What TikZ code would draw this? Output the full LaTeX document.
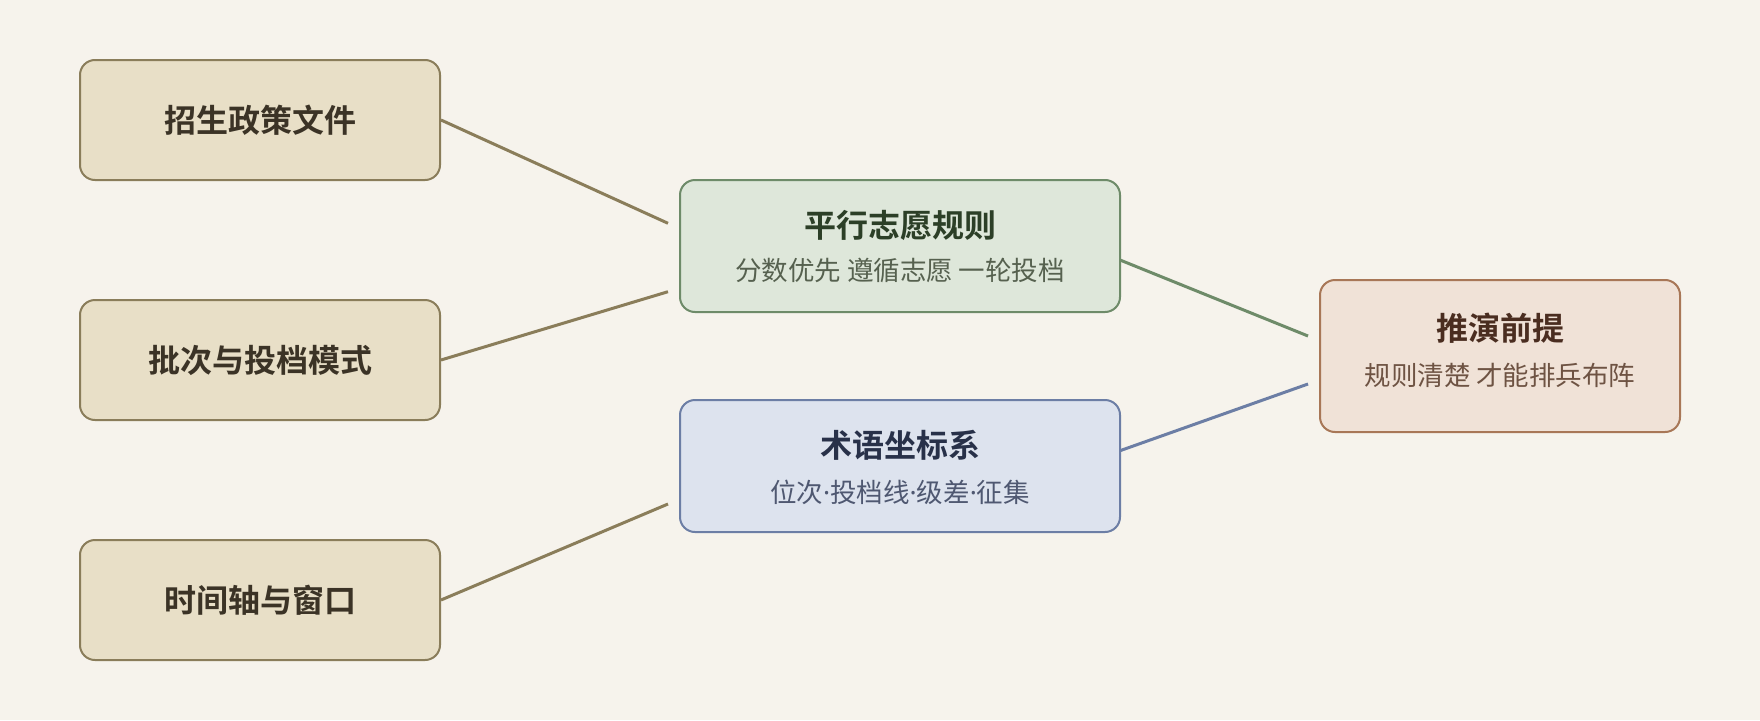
\documentclass[tikz,border=0pt]{standalone}
\usepackage{fontspec}
\setmainfont{Noto Sans CJK SC}
\newfontfamily\cjkb{Noto Sans CJK SC Bold}
\newfontfamily\latdot{Noto Sans}
\newcommand{\mdot}{{\latdot ·}}
\definecolor{bgc}{HTML}{F6F3EC}
\definecolor{tanfill}{HTML}{E8DFC7}
\definecolor{tanline}{HTML}{8A7D5A}
\definecolor{tantext}{HTML}{3B3326}
\definecolor{grfill}{HTML}{DEE7DA}
\definecolor{grline}{HTML}{6E8B69}
\definecolor{grtitle}{HTML}{2C3F27}
\definecolor{grsub}{HTML}{56614F}
\definecolor{blfill}{HTML}{DDE3EE}
\definecolor{blline}{HTML}{6C7EA5}
\definecolor{bltitle}{HTML}{283149}
\definecolor{blsub}{HTML}{4F5871}
\definecolor{rdfill}{HTML}{F0E2D7}
\definecolor{rdline}{HTML}{A87757}
\definecolor{rdtitle}{HTML}{4A2D20}
\definecolor{rdsub}{HTML}{6E5343}
\begin{document}
\begin{tikzpicture}[x=1pt,y=-1pt,
  box/.style={rounded corners=15pt, line width=2pt, minimum width=360pt, inner sep=0pt},
  srcbox/.style={box, draw=tanline, fill=tanfill, minimum height=120pt},
  midbox/.style={box, minimum width=440pt, minimum height=132pt},
  ttl/.style={font=\cjkb\fontsize{32}{36}\selectfont, inner sep=0pt},
  sub/.style={font=\fontsize{26.5}{30}\selectfont, inner sep=0pt},
  conn/.style={line width=3pt}]
\fill[bgc] (0,0) rectangle (1760,720);
\useasboundingbox (0,0) rectangle (1760,720);

\node[srcbox] (b1) at (260,120) {};
\node[srcbox] (b2) at (260,360) {};
\node[srcbox] (b3) at (260,600) {};
\node[ttl, text=tantext] (t1) at (b1.center) {招生政策文件};
\node[ttl, text=tantext] (t2) at (b2.center) {批次与投档模式};
\node[ttl, text=tantext] (t3) at (b3.center) {时间轴与窗口};

\node[midbox, draw=grline, fill=grfill] (g) at (900,246) {};
\node[ttl, text=grtitle] (gt) at (900,225) {平行志愿规则};
\node[sub, text=grsub] (gs) at (900,270) {分数优先 遵循志愿 一轮投档};

\node[midbox, draw=blline, fill=blfill] (bl) at (900,466) {};
\node[ttl, text=bltitle] (blt) at (900,445) {术语坐标系};
\node[sub, text=blsub] (bls) at (900,492) {位次\mdot 投档线\mdot 级差\mdot 征集};

\node[box, draw=rdline, fill=rdfill, minimum height=152pt] (r) at (1500,356) {};
\node[ttl, text=rdtitle] (rt) at (1500,328) {推演前提};
\node[sub, text=rdsub] (rs) at (1500,375) {规则清楚 才能排兵布阵};

\coordinate (g1) at (668,223.3);
\coordinate (g2) at (668,291.7);
\coordinate (bl1) at (668,504);
\coordinate (r1) at (1308,336);
\coordinate (r2) at (1308,384);
\coordinate (gout) at (1120,260);
\coordinate (blout) at (1120,450.7);

\draw[conn, tanline] (b1.east) -- (g1);
\draw[conn, tanline] (b2.east) -- (g2);
\draw[conn, tanline] (b3.east) -- (bl1);
\draw[conn, grline] (gout) -- (r1);
\draw[conn, blline] (blout) -- (r2);
\end{tikzpicture}
\end{document}
